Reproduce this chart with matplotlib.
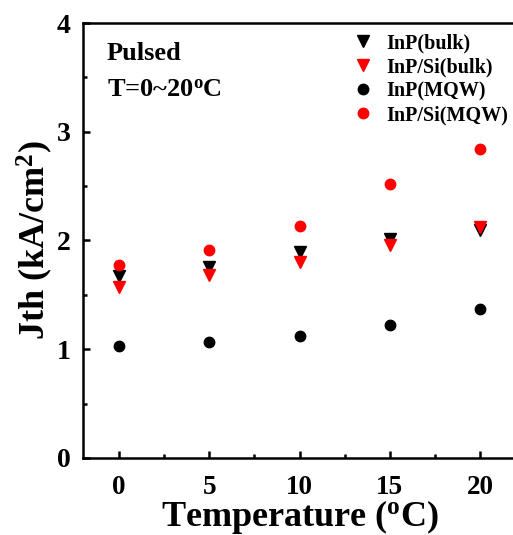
import matplotlib
matplotlib.use("Agg")
import matplotlib.pyplot as plt
from matplotlib.ticker import MultipleLocator

plt.rcParams["font.family"] = "Liberation Serif"
plt.rcParams["font.weight"] = "bold"
plt.rcParams["mathtext.fontset"] = "custom"
plt.rcParams["mathtext.rm"] = "Liberation Serif:bold"
plt.rcParams["mathtext.bf"] = "Liberation Serif:bold"
plt.rcParams["mathtext.it"] = "Liberation Serif:bold"

temperature = [0, 5, 10, 15, 20]
inp_bulk = [1.67, 1.76, 1.89, 2.01, 2.10]
inp_si_bulk = [1.57, 1.68, 1.80, 1.96, 2.12]
inp_mqw = [1.03, 1.07, 1.12, 1.22, 1.37]
inp_si_mqw = [1.77, 1.91, 2.13, 2.52, 2.84]

fig = plt.figure(figsize=(5.13, 5.35), dpi=100)
ax = fig.add_axes([0.162, 0.144, 0.844, 0.813])

ax.plot(temperature, inp_bulk, "v", color="black", ms=8.5, label="InP(bulk)")
ax.plot(temperature, inp_si_bulk, "v", color="red", ms=8.5, label="InP/Si(bulk)")
ax.plot(temperature, inp_mqw, "o", color="black", ms=7.5, label="InP(MQW)")
ax.plot(temperature, inp_si_mqw, "o", color="red", ms=7.5, label="InP/Si(MQW)")

ax.set_xlim(-2, 22)
ax.set_ylim(0, 4)
ax.xaxis.set_major_locator(MultipleLocator(5))
ax.xaxis.set_minor_locator(MultipleLocator(2.5))
ax.yaxis.set_major_locator(MultipleLocator(1))
ax.yaxis.set_minor_locator(MultipleLocator(0.5))

for s in ax.spines.values():
    s.set_linewidth(1.8)
ax.spines["right"].set_visible(False)

ax.tick_params(which="both", direction="in", width=1.8, top=False, right=False)
ax.tick_params(which="major", length=5)
ax.tick_params(which="minor", length=3)
ax.tick_params(axis="x", labelsize=19.5, pad=12)
ax.tick_params(axis="y", labelsize=20, pad=9)

ax.set_xlabel(r"Temperature ($^{\mathbf{o}}$C)", fontsize=26, fontweight="bold", labelpad=-1)
ax.set_ylabel(r"Jth (kA/cm$^{\mathbf{2}}$)", fontsize=26, fontweight="bold", labelpad=1)

ax.text(0.055, 0.93, "Pulsed", transform=ax.transAxes, fontsize=19, fontweight="bold", va="center")
ax.text(0.055, 0.845, r"T=0~20$^{\mathbf{o}}$C", transform=ax.transAxes, fontsize=19, fontweight="bold", va="center")

ax.legend(loc="upper left", bbox_to_anchor=(0.678, 0.938), bbox_transform=fig.transFigure,
          frameon=False, prop={"size": 14.5, "weight": "bold"}, handletextpad=0.4,
          labelspacing=0.2, borderpad=0, borderaxespad=0, handlelength=1.5)

fig.savefig("out.png", dpi=100)
